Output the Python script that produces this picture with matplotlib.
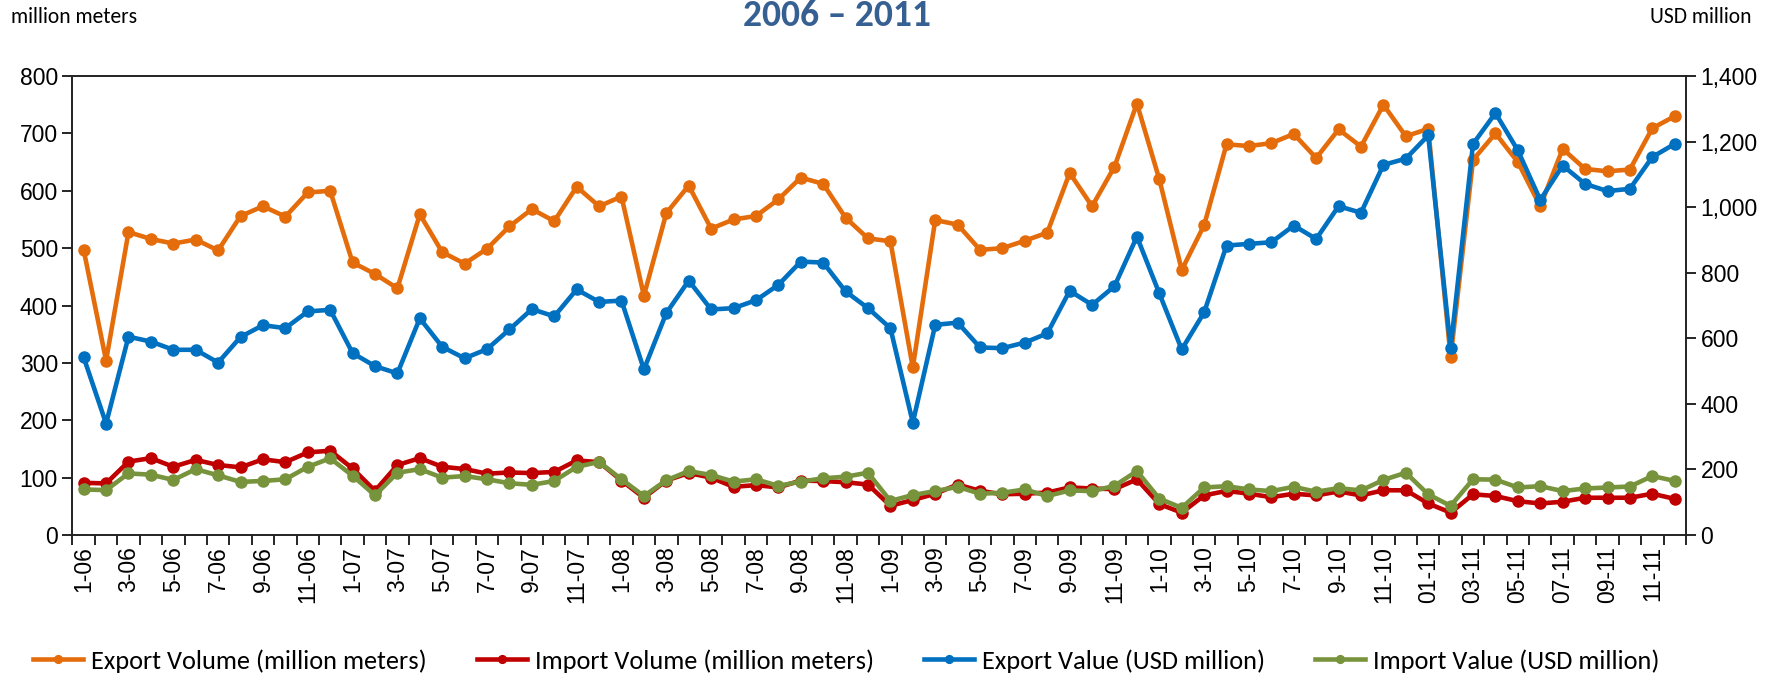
import numpy as np
import matplotlib.pyplot as plt
from matplotlib.ticker import FuncFormatter, MultipleLocator

# monthly data, Jan 2006 - Dec 2011
export_volume = [497, 304, 528, 516, 508, 515, 496, 556, 573, 555, 597, 600,
                 475, 455, 430, 559, 493, 473, 499, 538, 568, 547, 607, 573,
                 590, 417, 561, 609, 534, 550, 556, 585, 623, 612, 553, 517,
                 512, 292, 549, 541, 497, 500, 513, 527, 631, 573, 642, 752,
                 620, 462, 540, 681, 678, 683, 699, 657, 707, 677, 750, 695,
                 708, 310, 654, 700, 650, 573, 673, 638, 634, 637, 709, 730]
import_volume = [91, 90, 128, 134, 119, 131, 122, 118, 132, 127, 144, 147,
                 116, 77, 122, 134, 119, 115, 107, 109, 108, 110, 130, 127,
                 95, 65, 95, 108, 100, 84, 87, 83, 95, 94, 92, 88,
                 51, 61, 72, 88, 77, 71, 72, 74, 83, 81, 80, 97,
                 54, 39, 69, 77, 72, 66, 72, 69, 76, 69, 78, 78,
                 55, 39, 71, 68, 59, 55, 58, 65, 65, 65, 72, 63]
export_value = [542, 340, 605, 590, 565, 565, 526, 604, 640, 631, 682, 687,
                555, 515, 493, 661, 574, 539, 567, 627, 689, 667, 749, 711,
                715, 505, 677, 776, 688, 692, 716, 763, 834, 831, 743, 692,
                631, 343, 641, 648, 572, 570, 587, 615, 745, 702, 759, 910,
                737, 566, 679, 883, 888, 893, 944, 903, 1003, 983, 1129, 1148,
                1219, 570, 1193, 1287, 1173, 1022, 1127, 1071, 1049, 1056, 1153, 1193]
import_value = [139, 137, 188, 184, 168, 201, 182, 162, 165, 170, 208, 234,
                181, 121, 190, 201, 175, 180, 170, 158, 153, 165, 208, 223,
                170, 119, 167, 195, 183, 163, 170, 150, 163, 173, 178, 190,
                104, 122, 134, 147, 126, 129, 139, 119, 136, 134, 150, 195,
                111, 83, 145, 149, 139, 134, 147, 132, 143, 136, 168, 190,
                124, 89, 170, 169, 145, 149, 134, 142, 145, 148, 180, 165]

# every second month is labelled
tick_labels = ['1-06', '3-06', '5-06', '7-06', '9-06', '11-06',
               '1-07', '3-07', '5-07', '7-07', '9-07', '11-07',
               '1-08', '3-08', '5-08', '7-08', '9-08', '11-08',
               '1-09', '3-09', '5-09', '7-09', '9-09', '11-09',
               '1-10', '3-10', '5-10', '7-10', '9-10', '11-10',
               '01-11', '03-11', '05-11', '07-11', '09-11', '11-11']

plt.rcParams['font.family'] = ['Liberation Sans', 'DejaVu Sans']
label_font = ['Carlito', 'Liberation Sans Narrow', 'Noto Sans', 'DejaVu Sans']

x = np.arange(len(export_volume))

fig = plt.figure(figsize=(17.85, 6.77), dpi=100)
ax = fig.add_axes([0.0406, 0.2097, 0.9039, 0.678])
ax2 = ax.twinx()

style = dict(linewidth=3.3, marker='o', markersize=8)
l1, = ax.plot(x, export_volume, color='#E46C0A', label='Export Volume (million meters)', **style)
l2, = ax.plot(x, import_volume, color='#C00000', label='Import Volume (million meters)', **style)
l3, = ax2.plot(x, export_value, color='#0070C0', label='Export Value (USD million)', **style)
l4, = ax2.plot(x, import_value, color='#77933C', label='Import Value (USD million)', **style)

# axes limits and ticks
ax.set_xlim(-0.5, len(x) - 0.5)
ax.set_ylim(0, 800)
ax2.set_ylim(0, 1400)
ax.yaxis.set_major_locator(MultipleLocator(100))
ax2.yaxis.set_major_locator(MultipleLocator(200))
ax2.yaxis.set_major_formatter(FuncFormatter(lambda v, p: f'{int(v):,}'))

ax.set_xticks(x[::2])
ax.set_xticklabels(tick_labels, rotation=90)
ax.set_xticks(np.arange(-0.5, len(x)), minor=True)
ax.tick_params(axis='x', which='major', length=0, labelsize=16.5, pad=8)
ax.tick_params(axis='x', which='minor', length=7, width=1.2, direction='out')
ax.tick_params(axis='y', length=7, width=1.2, labelsize=16.5)
ax2.tick_params(axis='y', length=7, width=1.2, labelsize=16.5)

for a in (ax, ax2):
    for s in a.spines.values():
        s.set_linewidth(1.2)
        s.set_color('#222222')

# axis titles and heading
fig.text(0.006, 0.975, 'million meters', fontsize=15.5, va='center', ha='left', family=label_font)
fig.text(0.981, 0.975, 'USD million', fontsize=15.5, va='center', ha='right', family=label_font)
fig.text(0.469, 0.9616, '2006 – 2011', fontsize=27, fontweight='bold', color='#376092',
         ha='center', va='baseline', family=label_font)

fig.legend(handles=[l1, l2, l3, l4], loc='center', bbox_to_anchor=(0.474, 0.024), ncol=4,
           frameon=False, prop={'family': label_font, 'size': 19},
           handlelength=1.9, columnspacing=1.9, handletextpad=0.3, markerscale=0.7)

fig.savefig('out.png', dpi=100)
